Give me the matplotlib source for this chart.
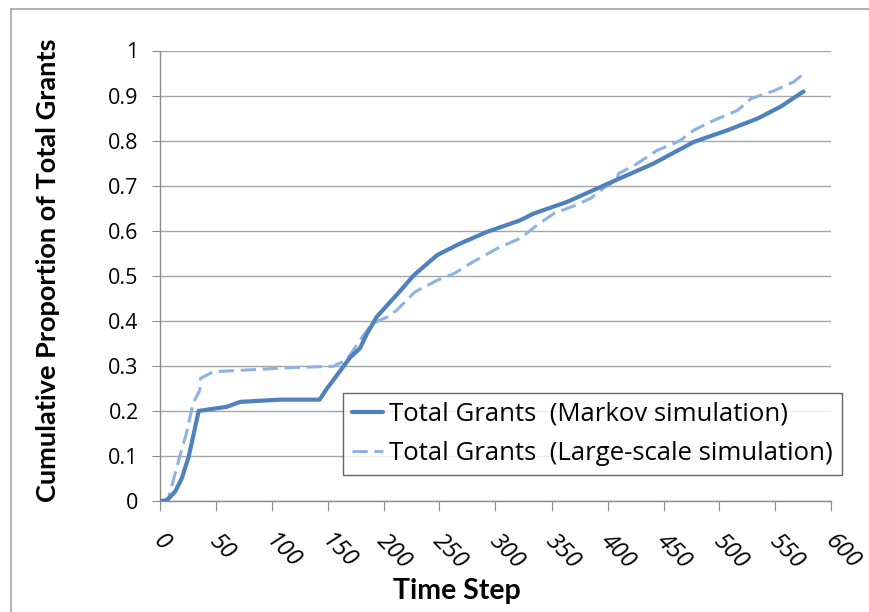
import matplotlib
matplotlib.use("Agg")
import matplotlib.pyplot as plt
from matplotlib.lines import Line2D
from matplotlib.transforms import offset_copy

# Markov simulation: cumulative proportion of total grants per time step
markov_t = [0, 6, 14, 20, 26, 30, 35, 60, 72, 108, 143, 149, 164, 170, 179,
            185, 194, 213, 227, 248, 268, 292, 322, 334, 364, 400, 441, 477,
            507, 534, 555, 575]
markov_p = [0, 0, 0.021, 0.051, 0.098, 0.143, 0.200, 0.209, 0.220, 0.225,
            0.225, 0.248, 0.298, 0.318, 0.339, 0.370, 0.409, 0.461, 0.501,
            0.546, 0.571, 0.597, 0.623, 0.638, 0.664, 0.704, 0.749, 0.797,
            0.823, 0.849, 0.876, 0.909]

# Large-scale simulation: same quantity, stepwise
large_t = [0, 8, 12, 18, 24, 30, 36, 36.5, 48, 72, 117, 155, 167, 181, 190,
           204, 212, 228, 248, 263, 280, 301, 322, 337, 352, 370, 385, 398,
           408, 410, 424, 435, 444, 465, 477, 495, 516, 528, 549, 566, 575]
large_p = [0, 0.006, 0.043, 0.098, 0.150, 0.217, 0.246, 0.272, 0.287, 0.290,
           0.296, 0.299, 0.313, 0.364, 0.394, 0.409, 0.424, 0.464, 0.490,
           0.505, 0.531, 0.560, 0.583, 0.612, 0.638, 0.655, 0.672, 0.697,
           0.712, 0.727, 0.745, 0.763, 0.778, 0.800, 0.823, 0.845, 0.867,
           0.893, 0.911, 0.930, 0.948]

x_ticks = list(range(0, 601, 50))
y_ticks = [0, 0.1, 0.2, 0.3, 0.4, 0.5, 0.6, 0.7, 0.8, 0.9, 1]
y_ticklabels = ["0", "0.1", "0.2", "0.3", "0.4", "0.5", "0.6", "0.7", "0.8", "0.9", "1"]

plt.rcParams["font.family"] = ["Open Sans", "DejaVu Sans"]

W, H = 869, 612
fig = plt.figure(figsize=(W / 100, H / 100), dpi=100)

# outer chart frame (left and top edges only fall inside the canvas)
fig.add_artist(Line2D([11 / W, 11 / W], [0, 1 - 9 / H], transform=fig.transFigure,
                      color="#a6a6a6", linewidth=1.2))
fig.add_artist(Line2D([11 / W, 1], [1 - 9 / H, 1 - 9 / H], transform=fig.transFigure,
                      color="#a6a6a6", linewidth=1.2))

ax = fig.add_axes([159.5 / W, 1 - 501 / H, 672 / W, 450.5 / H])

ax.plot(markov_t, markov_p, color="#4f81bd", linewidth=3.0,
        solid_capstyle="round", solid_joinstyle="round",
        label="Total Grants  (Markov simulation)", zorder=3)
ax.plot(large_t, large_p, color="#8db3e2", linewidth=2.2,
        dashes=(5, 2.2), label="Total Grants  (Large-scale simulation)", zorder=2)

ax.set_xlim(0, 600)
ax.set_ylim(0, 1)
ax.set_yticks(y_ticks)
ax.set_yticklabels(y_ticklabels)
ax.set_xticks(x_ticks)
ax.set_xticklabels([])

ax.grid(axis="y", color="#a6a6a6", linewidth=1.0)
ax.set_axisbelow(True)
for s in ("top", "right"):
    ax.spines[s].set_visible(False)
for s in ("left", "bottom"):
    ax.spines[s].set_color("#8c8c8c")
    ax.spines[s].set_linewidth(1.0)

ax.tick_params(axis="y", direction="out", length=6, color="#8c8c8c",
               labelsize=15.5, pad=9)
ax.tick_params(axis="x", direction="out", length=7, color="#8c8c8c")

# rotated x tick labels
for t in x_ticks:
    tr = offset_copy(ax.get_xaxis_transform(), fig=fig, x=-3, y=-37, units="dots")
    ax.text(t, 0, str(t), transform=tr, rotation=-45, rotation_mode="anchor",
            ha="left", va="center", fontsize=17, style="italic")

fig.text(48 / W, 1 - 270 / H, "Cumulative Proportion of Total Grants",
         fontsize=19.5, fontweight="bold", rotation=90, ha="center", va="center",
         family=["Lato", "DejaVu Sans"])
fig.text(457 / W, 1 - 591 / H, "Time Step", fontsize=20.5, fontweight="bold",
         ha="center", va="center", family=["Lato", "DejaVu Sans"])

leg = ax.legend(loc="upper left", bbox_to_anchor=(343 / W, 1 - 393 / H),
                bbox_transform=fig.transFigure, fontsize=18.5, frameon=True,
                fancybox=False, edgecolor="#404040", handlelength=1.2,
                handletextpad=0.25, borderpad=0.35, labelspacing=0.55,
                borderaxespad=0)
leg.get_frame().set_linewidth(1.0)

fig.savefig("out.png", dpi=100)
